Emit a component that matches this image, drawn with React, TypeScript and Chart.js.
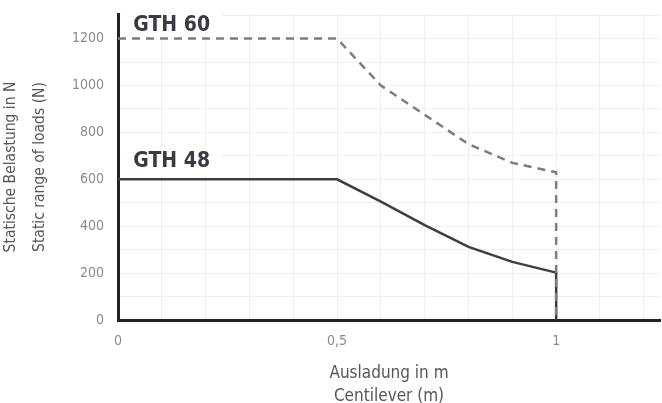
import React, { useEffect, useRef } from "react";
import { Chart, registerables } from "chart.js";

Chart.register(...registerables);

const gth60X = [0, 0.5, 0.6, 0.7, 0.8, 0.9, 1, 1];
const gth60Y = [1200, 1200, 1000, 875, 750, 670, 630, 0];
const gth48X = [0, 0.5, 0.6, 0.7, 0.8, 0.9, 1, 1];
const gth48Y = [600, 600, 505, 405, 312, 248, 202, 0];
const seriesLabels = ["GTH 60", "GTH 48"];
const labelAnchors = [
  { x: 0.035, y: 1257 },
  { x: 0.035, y: 677 },
];
const xTitle = ["Ausladung in m", "Centilever (m)"];
const yTitle = ["Statische Belastung in N", "Static range of loads (N)"];

const FONT = '"Liberation Sans Narrow", "DejaVu Sans Condensed", "Roboto Condensed", sans-serif';

const labelPlugin = {
  id: "seriesLabels",
  beforeDatasetsDraw(chart: any) {
    const { ctx, scales } = chart;
    ctx.save();
    ctx.font = `bold 21px ${FONT}`;
    ctx.textBaseline = "middle";
    ctx.textAlign = "left";
    seriesLabels.forEach((t, i) => {
      const px = scales.x.getPixelForValue(labelAnchors[i].x);
      const py = scales.y.getPixelForValue(labelAnchors[i].y);
      const w = ctx.measureText(t).width;
      ctx.fillStyle = "#ffffff";
      ctx.fillRect(px - 12, py - 14, w + 24, 28);
      ctx.fillStyle = "#3a3b42";
      ctx.fillText(t, px, py);
    });
    ctx.restore();
  },
};

export default function App() {
  const ref = useRef<HTMLCanvasElement>(null);
  useEffect(() => {
    document.body.style.margin = "0";
    const chart = new Chart(ref.current!, {
      type: "line",
      data: {
        datasets: [
          {
            label: seriesLabels[0],
            data: gth60X.map((x, i) => ({ x, y: gth60Y[i] })),
            borderColor: "#7b7d86",
            borderWidth: 2.5,
            borderDash: [8, 6],
            pointRadius: 0,
            fill: false,
            tension: 0,
          },
          {
            label: seriesLabels[1],
            data: gth48X.map((x, i) => ({ x, y: gth48Y[i] })),
            borderColor: "#3d3e44",
            borderWidth: 2.5,
            pointRadius: 0,
            fill: false,
            tension: 0,
          },
        ],
      },
      options: {
        animation: false,
        responsive: false,
        maintainAspectRatio: false,
        layout: { padding: { top: 14, right: 2, left: 0, bottom: 0 } },
        plugins: { legend: { display: false }, tooltip: { enabled: false } },
        scales: {
          x: {
            type: "linear",
            min: 0,
            max: 1.237,
            afterFit: (s: any) => {
              s.height = 83;
              s.paddingLeft = 0;
              s.paddingRight = 0;
            },
            afterBuildTicks: (s: any) => {
              const t = [];
              for (let i = 0; i <= 12; i++) t.push({ value: i / 10 });
              s.ticks = t;
            },
            border: { color: "#222222", width: 3 },
            grid: { color: "#efeff3", lineWidth: 1, drawTicks: false },
            ticks: {
              padding: 13,
              color: "#8a8a8e",
              font: { family: FONT, size: 14 },
              maxRotation: 0,
              autoSkip: false,
              callback: (v: any) => {
                const n = Number(v);
                if (Math.abs(n) < 1e-9) return "0";
                if (Math.abs(n - 0.5) < 1e-9) return "0,5";
                if (Math.abs(n - 1) < 1e-9) return "1";
                return "";
              },
            },
            title: {
              display: true,
              text: xTitle,
              color: "#55565c",
              font: { family: FONT, size: 17, lineHeight: 1.35 },
              padding: { top: 4, bottom: -5 },
            },
          },
          y: {
            min: 0,
            max: 1305,
            afterFit: (s: any) => {
              s.width = 118;
              s.paddingTop = 0;
              s.paddingBottom = 0;
            },
            afterBuildTicks: (s: any) => {
              const t = [];
              for (let i = 0; i <= 13; i++) t.push({ value: i * 100 });
              s.ticks = t;
            },
            border: { color: "#222222", width: 3 },
            grid: { color: "#efeff3", lineWidth: 1, drawTicks: false },
            ticks: {
              padding: 14,
              color: "#8a8a8e",
              font: { family: FONT, size: 14 },
              autoSkip: false,
              callback: (v: any) => {
                const n = Number(v);
                return n % 200 === 0 && n <= 1200 ? String(n) : "";
              },
            },
            title: {
              display: true,
              text: yTitle,
              color: "#55565c",
              font: { family: FONT, size: 15.5, lineHeight: 1.9 },
              padding: { top: -4, bottom: 0 },
            },
          },
        },
      },
      plugins: [labelPlugin],
    });
    return () => chart.destroy();
  }, []);
  return <canvas ref={ref} width={662} height={403} style={{ display: "block" }} />;
}
